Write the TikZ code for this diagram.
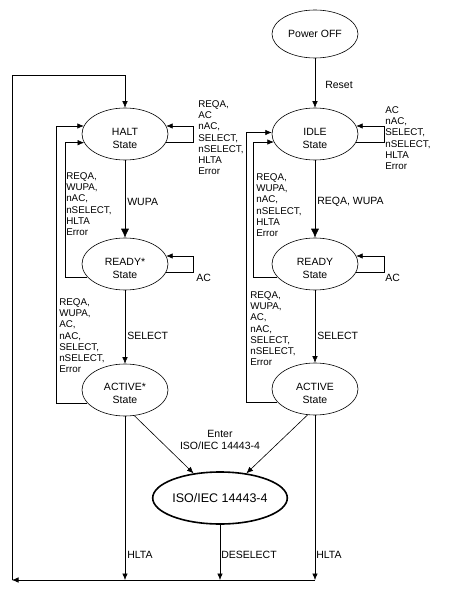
\documentclass[tikz,border=0pt]{standalone}
\usepackage{fontspec}
\setmainfont{Liberation Sans}
\usetikzlibrary{arrows,arrows.meta,shapes,positioning,calc}

\tikzset{
  state/.style = {draw, ellipse, minimum width = 86pt, minimum height = 52pt,
    inner sep = 0pt, align = center, font = \fontsize{10.5}{13}\selectfont},
  lbl/.style = {anchor = west, inner sep = 0pt, font = \fontsize{10.5}{12}\selectfont},
  lst/.style = {anchor = north west, inner sep = 0pt, align = left,
    font = \fontsize{9.8}{11.3}\selectfont},
  big/.style = {-{Latex[length = 9pt, width = 8pt]}},
  >={Latex[length = 6.5pt, width = 5.5pt]}
}

\begin{document}
\begin{tikzpicture}[x = 1pt, y = -1pt, line width = 0.6pt]
\useasboundingbox (0,0) rectangle (455,599);

% states
\node[state, minimum height = 48pt] (off) at (315, 34) {Power OFF};
\node[state] (halt) at (125, 134) {\rule{0pt}{17pt}HALT\\State};
\node[state] (idle) at (315, 134) {\rule{0pt}{17pt}IDLE\\State};
\node[state] (readys) at (125, 264) {\rule{0pt}{17pt}READY*\\State};
\node[state] (ready) at (315, 264) {\rule{0pt}{17pt}READY\\State};
\node[state] (actives) at (125, 390) {\rule{0pt}{14pt}ACTIVE*\\State};
\node[state] (active) at (315, 389) {\rule{0pt}{17pt}ACTIVE\\State};
\node[state, minimum width = 124pt, line width = 1.6pt,
  font = \fontsize{12.5}{14}\selectfont] (iso) at (220, 498) {ISO/IEC 14443-4};

\coordinate (bl) at (12, 580);

% labels
\node[lbl] (reset) at (325, 85) {Reset};
\node[lbl] (wupa) at (127, 202) {WUPA};
\node[lbl] (reqwupa) at (317, 202) {REQA, WUPA};
\node[lbl] (ac) at (196, 278) {AC};
\node[lbl] (ac1) at (385, 278) {AC};
\node[lbl] (sel) at (127, 336) {SELECT};
\node[lbl] (sel1) at (317, 336) {SELECT};
\node[lbl] (hlta) at (127, 555) {HLTA};
\node[lbl] (desel) at (221, 555) {DESELECT};
\node[lbl] (hlta1) at (316, 555) {HLTA};
\node[align = center, inner sep = 0pt, font = \fontsize{10.5}{12}\selectfont]
  (enter) at (220, 440) {Enter\\ISO/IEC 14443-4};

\node[lst] (haltin) at (198, 100) {REQA,\\AC\\nAC,\\SELECT,\\nSELECT,\\HLTA\\Error};
\node[lst] (idlein) at (385, 106) {AC\\nAC,\\SELECT,\\nSELECT,\\HLTA\\Error};
\node[lst] (haltback) at (66, 172) {REQA,\\WUPA,\\nAC,\\nSELECT,\\HLTA\\Error};
\node[lst] (idleback) at (256, 173) {REQA,\\WUPA,\\nAC,\\nSELECT,\\HLTA\\Error};
\node[lst] (actback) at (59, 298) {REQA,\\WUPA,\\AC,\\nAC,\\SELECT,\\nSELECT,\\Error};
\node[lst] (actback1) at (250, 291) {REQA,\\WUPA,\\AC,\\nAC,\\SELECT,\\nSELECT,\\Error};

% transitions
\draw[->] (off) -- (idle);
\draw[big] (halt) -- (readys);
\draw[big] (idle) -- (ready);
\draw[->] (readys) -- (actives);
\draw[->] (ready) -- (active);

\draw[<-] (halt.11) -- ++(27, 0) |- (halt.-12);
\draw[<-] (idle.11) -- ++(28, 0) |- (idle.-12);
\draw[<-] (readys.11) -- ++(27, 0) |- (readys.-12);
\draw[<-] (ready.11) -- ++(28, 0) |- (ready.-12);

\draw[->] (readys.199) -- ++(-22, 0) |- (halt.192);
\draw[->] (actives.199) -- ++(-31, 0) |- (halt.169);
\draw[->] (ready.199) -- ++(-24, 0) |- (idle.191);
\draw[->] (active.199) -- ++(-31, 0) |- (idle.178);

\draw[->] (actives.-70) -- (iso.137);
\draw[->] (active.-106) -- (iso.43);

\draw[->] (actives) -- (actives |- bl);
\draw[->] (iso) -- (iso |- bl);
\draw[->] (active) -- (active |- bl);
\draw[->] (active |- bl) -- (bl);
\draw[->] (bl) -- ++(0, -505) -| (halt.north);

\end{tikzpicture}
\end{document}
